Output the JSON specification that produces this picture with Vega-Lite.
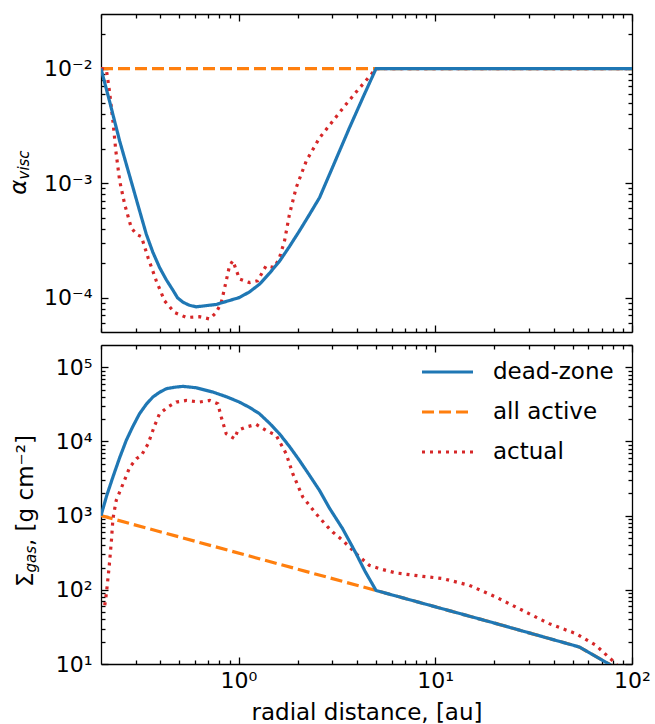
{
  "$schema": "https://vega.github.io/schema/vega-lite/v6.json",
  "padding": {"left": 7, "top": 13, "right": 20, "bottom": 2},
  "spacing": 10,
  "datasets": {
    "alpha": [
      {"series": "all active", "x": 0.2, "y": 0.01},
      {"series": "all active", "x": 100, "y": 0.01},
      {"series": "actual", "x": 0.2, "y": 0.01},
      {"series": "actual", "x": 0.213, "y": 0.0098},
      {"series": "actual", "x": 0.221, "y": 0.0063},
      {"series": "actual", "x": 0.23, "y": 0.00347},
      {"series": "actual", "x": 0.238, "y": 0.0019},
      {"series": "actual", "x": 0.249, "y": 0.00104},
      {"series": "actual", "x": 0.264, "y": 0.00065},
      {"series": "actual", "x": 0.285, "y": 0.000407},
      {"series": "actual", "x": 0.303, "y": 0.000357},
      {"series": "actual", "x": 0.321, "y": 0.00034},
      {"series": "actual", "x": 0.347, "y": 0.000223},
      {"series": "actual", "x": 0.382, "y": 0.00014},
      {"series": "actual", "x": 0.421, "y": 0.0000935},
      {"series": "actual", "x": 0.473, "y": 0.000074},
      {"series": "actual", "x": 0.543, "y": 0.000067},
      {"series": "actual", "x": 0.634, "y": 0.000068},
      {"series": "actual", "x": 0.713, "y": 0.000065},
      {"series": "actual", "x": 0.77, "y": 0.000074},
      {"series": "actual", "x": 0.817, "y": 0.00009},
      {"series": "actual", "x": 0.866, "y": 0.00014},
      {"series": "actual", "x": 0.9, "y": 0.000189},
      {"series": "actual", "x": 0.936, "y": 0.00021},
      {"series": "actual", "x": 1.012, "y": 0.000145},
      {"series": "actual", "x": 1.137, "y": 0.000135},
      {"series": "actual", "x": 1.25, "y": 0.00014},
      {"series": "actual", "x": 1.38, "y": 0.000189},
      {"series": "actual", "x": 1.523, "y": 0.000183},
      {"series": "actual", "x": 1.615, "y": 0.000223},
      {"series": "actual", "x": 1.713, "y": 0.000312},
      {"series": "actual", "x": 1.815, "y": 0.000533},
      {"series": "actual", "x": 1.963, "y": 0.00091},
      {"series": "actual", "x": 2.21, "y": 0.00156},
      {"series": "actual", "x": 2.58, "y": 0.00248},
      {"series": "actual", "x": 3.01, "y": 0.00347},
      {"series": "actual", "x": 3.45, "y": 0.00467},
      {"series": "actual", "x": 3.98, "y": 0.0063},
      {"series": "actual", "x": 4.59, "y": 0.0084},
      {"series": "actual", "x": 5.0, "y": 0.01},
      {"series": "actual", "x": 100, "y": 0.01},
      {"series": "dead-zone", "x": 0.2, "y": 0.01},
      {"series": "dead-zone", "x": 0.221, "y": 0.00519},
      {"series": "dead-zone", "x": 0.249, "y": 0.00232},
      {"series": "dead-zone", "x": 0.291, "y": 0.00091},
      {"series": "dead-zone", "x": 0.3144, "y": 0.00057},
      {"series": "dead-zone", "x": 0.34, "y": 0.000357},
      {"series": "dead-zone", "x": 0.3672, "y": 0.000248},
      {"series": "dead-zone", "x": 0.397, "y": 0.000183},
      {"series": "dead-zone", "x": 0.4295, "y": 0.000143},
      {"series": "dead-zone", "x": 0.464, "y": 0.000116},
      {"series": "dead-zone", "x": 0.49, "y": 0.0000994},
      {"series": "dead-zone", "x": 0.522, "y": 0.000091},
      {"series": "dead-zone", "x": 0.564, "y": 0.0000855},
      {"series": "dead-zone", "x": 0.61, "y": 0.000083},
      {"series": "dead-zone", "x": 0.77, "y": 0.000087},
      {"series": "dead-zone", "x": 1.01, "y": 0.0001},
      {"series": "dead-zone", "x": 1.137, "y": 0.000112},
      {"series": "dead-zone", "x": 1.28, "y": 0.000131},
      {"series": "dead-zone", "x": 1.437, "y": 0.000163},
      {"series": "dead-zone", "x": 1.62, "y": 0.000209},
      {"series": "dead-zone", "x": 1.815, "y": 0.000279},
      {"series": "dead-zone", "x": 2.04, "y": 0.000382},
      {"series": "dead-zone", "x": 2.293, "y": 0.000531},
      {"series": "dead-zone", "x": 2.58, "y": 0.000745},
      {"series": "dead-zone", "x": 2.9, "y": 0.00119},
      {"series": "dead-zone", "x": 3.66, "y": 0.00303},
      {"series": "dead-zone", "x": 4.28, "y": 0.00555},
      {"series": "dead-zone", "x": 5.0, "y": 0.01},
      {"series": "dead-zone", "x": 100, "y": 0.01}
    ],
    "sigma": [
      {"series": "all active", "x": 0.2, "y": 1000},
      {"series": "all active", "x": 5.0, "y": 98},
      {"series": "all active", "x": 20, "y": 35.6},
      {"series": "all active", "x": 53.8, "y": 17},
      {"series": "all active", "x": 76.4, "y": 10},
      {"series": "all active", "x": 100, "y": 6.6},
      {"series": "actual", "x": 0.209, "y": 62},
      {"series": "actual", "x": 0.213, "y": 89},
      {"series": "actual", "x": 0.22, "y": 204},
      {"series": "actual", "x": 0.226, "y": 465},
      {"series": "actual", "x": 0.23, "y": 911},
      {"series": "actual", "x": 0.239, "y": 1608},
      {"series": "actual", "x": 0.259, "y": 2700},
      {"series": "actual", "x": 0.28, "y": 4500},
      {"series": "actual", "x": 0.303, "y": 5870},
      {"series": "actual", "x": 0.321, "y": 6500},
      {"series": "actual", "x": 0.347, "y": 9300},
      {"series": "actual", "x": 0.375, "y": 16500},
      {"series": "actual", "x": 0.397, "y": 23700},
      {"series": "actual", "x": 0.438, "y": 29200},
      {"series": "actual", "x": 0.483, "y": 34000},
      {"series": "actual", "x": 0.543, "y": 35800},
      {"series": "actual", "x": 0.634, "y": 34000},
      {"series": "actual", "x": 0.713, "y": 35800},
      {"series": "actual", "x": 0.785, "y": 32300},
      {"series": "actual", "x": 0.817, "y": 21400},
      {"series": "actual", "x": 0.866, "y": 12700},
      {"series": "actual", "x": 0.954, "y": 10900},
      {"series": "actual", "x": 0.992, "y": 14100},
      {"series": "actual", "x": 1.094, "y": 15700},
      {"series": "actual", "x": 1.23, "y": 17000},
      {"series": "actual", "x": 1.38, "y": 14100},
      {"series": "actual", "x": 1.554, "y": 12100},
      {"series": "actual", "x": 1.746, "y": 6860},
      {"series": "actual", "x": 1.887, "y": 3680},
      {"series": "actual", "x": 2.12, "y": 1790},
      {"series": "actual", "x": 2.48, "y": 1060},
      {"series": "actual", "x": 2.84, "y": 705},
      {"series": "actual", "x": 3.01, "y": 603},
      {"series": "actual", "x": 3.38, "y": 465},
      {"series": "actual", "x": 3.96, "y": 308},
      {"series": "actual", "x": 4.62, "y": 214},
      {"series": "actual", "x": 5.2, "y": 193},
      {"series": "actual", "x": 6.3, "y": 169},
      {"series": "actual", "x": 8.63, "y": 152},
      {"series": "actual", "x": 10.9, "y": 142},
      {"series": "actual", "x": 14.9, "y": 115},
      {"series": "actual", "x": 20.3, "y": 80},
      {"series": "actual", "x": 27.7, "y": 53},
      {"series": "actual", "x": 37.9, "y": 35},
      {"series": "actual", "x": 51.8, "y": 25.7},
      {"series": "actual", "x": 65.4, "y": 17.9},
      {"series": "actual", "x": 79.4, "y": 11.2},
      {"series": "actual", "x": 100, "y": 6},
      {"series": "dead-zone", "x": 0.2, "y": 1000},
      {"series": "dead-zone", "x": 0.2138, "y": 1862},
      {"series": "dead-zone", "x": 0.23, "y": 3330},
      {"series": "dead-zone", "x": 0.2488, "y": 6050},
      {"series": "dead-zone", "x": 0.269, "y": 10400},
      {"series": "dead-zone", "x": 0.2907, "y": 16070},
      {"series": "dead-zone", "x": 0.314, "y": 23700},
      {"series": "dead-zone", "x": 0.34, "y": 31840},
      {"series": "dead-zone", "x": 0.367, "y": 39800},
      {"series": "dead-zone", "x": 0.397, "y": 46100},
      {"series": "dead-zone", "x": 0.43, "y": 51500},
      {"series": "dead-zone", "x": 0.473, "y": 53900},
      {"series": "dead-zone", "x": 0.521, "y": 55400},
      {"series": "dead-zone", "x": 0.61, "y": 53000},
      {"series": "dead-zone", "x": 0.741, "y": 46400},
      {"series": "dead-zone", "x": 0.866, "y": 40200},
      {"series": "dead-zone", "x": 1.01, "y": 34000},
      {"series": "dead-zone", "x": 1.137, "y": 28800},
      {"series": "dead-zone", "x": 1.278, "y": 23700},
      {"series": "dead-zone", "x": 1.437, "y": 17650},
      {"series": "dead-zone", "x": 1.615, "y": 12700},
      {"series": "dead-zone", "x": 1.815, "y": 8570},
      {"series": "dead-zone", "x": 2.04, "y": 5560},
      {"series": "dead-zone", "x": 2.293, "y": 3515},
      {"series": "dead-zone", "x": 2.58, "y": 2190},
      {"series": "dead-zone", "x": 2.9, "y": 1262},
      {"series": "dead-zone", "x": 3.38, "y": 668},
      {"series": "dead-zone", "x": 3.96, "y": 308},
      {"series": "dead-zone", "x": 4.39, "y": 179},
      {"series": "dead-zone", "x": 5.0, "y": 98},
      {"series": "dead-zone", "x": 20, "y": 35.6},
      {"series": "dead-zone", "x": 53.8, "y": 17},
      {"series": "dead-zone", "x": 76.4, "y": 10},
      {"series": "dead-zone", "x": 100, "y": 6.6}
    ]
  },
  "vconcat": [
    {
      "width": 531,
      "height": 318,
      "data": {"name": "alpha"},
      "layer": [
        {
          "transform": [{"filter": "datum.series == 'all active'"}],
          "mark": {"type": "line", "strokeWidth": 3.2, "clip": true},
          "encoding": {
            "x": {"field": "x", "type": "quantitative",
              "scale": {"type": "log", "domain": [0.2, 100], "nice": false},
              "axis": {"orient": "bottom", "values": [0.2,0.3,0.4,0.5,0.6,0.7,0.8,0.9,1,2,3,4,5,6,7,8,9,10,20,30,40,50,60,70,80,90,100],
                "tickSize": {"condition": {"test": "datum.value == 1 || datum.value == 10 || datum.value == 100", "value": -7}, "value": -4},
                "labels": false, "title": null}},
            "y": {"field": "y", "type": "quantitative",
              "scale": {"type": "log", "domain": [0.00005, 0.03], "nice": false},
              "axis": {"orient": "left", "values": [0.00006,0.00007,0.00008,0.00009,0.0001,0.0002,0.0003,0.0004,0.0005,0.0006,0.0007,0.0008,0.0009,0.001,0.002,0.003,0.004,0.005,0.006,0.007,0.008,0.009,0.01,0.02],
                "tickSize": {"condition": {"test": "datum.value == 0.0001 || datum.value == 0.001 || datum.value == 0.01", "value": -7}, "value": -4},
                "labelExpr": "datum.value == 0.01 ? '10⁻²' : datum.value == 0.001 ? '10⁻³' : datum.value == 0.0001 ? '10⁻⁴' : ''",
                "labelPadding": 16,
                "title": "α", "titleFontStyle": "italic", "titleFontSize": 23, "titleAngle": 270,
                "titleAlign": "right", "titleBaseline": "alphabetic", "titleX": -76, "titleY": 165}},
            "color": {"field": "series", "type": "nominal",
              "scale": {"domain": ["dead-zone", "all active", "actual"], "range": ["#1f77b4", "#ff7f0e", "#d62728"]}, "legend": null},
            "strokeDash": {"field": "series", "type": "nominal",
              "scale": {"domain": ["dead-zone", "all active", "actual"], "range": [[1, 0], [12, 5], [3, 5]]}, "legend": null}
          }
        },
        {
          "transform": [{"filter": "datum.series == 'actual'"}],
          "mark": {"type": "line", "strokeWidth": 3.2, "clip": true},
          "encoding": {
            "x": {"field": "x", "type": "quantitative",
              "axis": {"orient": "top", "values": [0.2,0.3,0.4,0.5,0.6,0.7,0.8,0.9,1,2,3,4,5,6,7,8,9,10,20,30,40,50,60,70,80,90,100],
                "tickSize": {"condition": {"test": "datum.value == 1 || datum.value == 10 || datum.value == 100", "value": -7}, "value": -4},
                "labels": false, "title": null}},
            "y": {"field": "y", "type": "quantitative",
              "axis": {"orient": "right", "values": [0.00006,0.00007,0.00008,0.00009,0.0001,0.0002,0.0003,0.0004,0.0005,0.0006,0.0007,0.0008,0.0009,0.001,0.002,0.003,0.004,0.005,0.006,0.007,0.008,0.009,0.01,0.02],
                "tickSize": {"condition": {"test": "datum.value == 0.0001 || datum.value == 0.001 || datum.value == 0.01", "value": -7}, "value": -4},
                "labels": false, "title": null}},
            "color": {"field": "series", "type": "nominal", "legend": null},
            "strokeDash": {"field": "series", "type": "nominal", "legend": null}
          }
        },
        {
          "transform": [{"filter": "datum.series == 'dead-zone'"}],
          "mark": {"type": "line", "strokeWidth": 3.2, "clip": true},
          "encoding": {
            "x": {"field": "x", "type": "quantitative", "axis": null},
            "y": {"field": "y", "type": "quantitative",
              "axis": {"orient": "left", "domain": false, "ticks": false, "labels": false,
                "title": "visc", "titleFontStyle": "italic", "titleFontSize": 15, "titleAngle": 270,
                "titleAlign": "left", "titleBaseline": "alphabetic", "titleX": -73, "titleY": 165}},
            "color": {"field": "series", "type": "nominal", "legend": null},
            "strokeDash": {"field": "series", "type": "nominal", "legend": null}
          }
        }
      ],
      "resolve": {"axis": {"x": "independent", "y": "independent"}}
    },
    {
      "width": 531,
      "height": 319,
      "data": {"name": "sigma"},
      "layer": [
        {
          "transform": [{"filter": "datum.series == 'all active'"}],
          "mark": {"type": "line", "strokeWidth": 3.2, "clip": true},
          "encoding": {
            "x": {"field": "x", "type": "quantitative",
              "scale": {"type": "log", "domain": [0.2, 100], "nice": false},
              "axis": {"orient": "bottom", "values": [0.3,0.4,0.5,0.6,0.7,0.8,0.9,1,2,3,4,5,6,7,8,9,10,20,30,40,50,60,70,80,90,100],
                "tickSize": {"condition": {"test": "datum.value == 1 || datum.value == 10 || datum.value == 100", "value": -7}, "value": -4},
                "labelExpr": "datum.value == 1 ? '10⁰' : datum.value == 10 ? '10¹' : datum.value == 100 ? '10²' : ''",
                "labelPadding": 13,
                "title": "radial distance, [au]", "titleFontSize": 23, "titlePadding": 7}},
            "y": {"field": "y", "type": "quantitative",
              "scale": {"type": "log", "domain": [10, 200000], "nice": false},
              "axis": {"orient": "left", "values": [10,20,30,40,50,60,70,80,90,100,200,300,400,500,600,700,800,900,1000,2000,3000,4000,5000,6000,7000,8000,9000,10000,20000,30000,40000,50000,60000,70000,80000,90000,100000],
                "tickSize": {"condition": {"test": "datum.value == 10 || datum.value == 100 || datum.value == 1000 || datum.value == 10000 || datum.value == 100000", "value": -7}, "value": -4},
                "labelExpr": "datum.value == 10 ? '10¹' : datum.value == 100 ? '10²' : datum.value == 1000 ? '10³' : datum.value == 10000 ? '10⁴' : datum.value == 100000 ? '10⁵' : ''",
                "labelPadding": 16,
                "title": "Σ", "titleFontSize": 23, "titleAngle": 270,
                "titleAlign": "right", "titleBaseline": "alphabetic", "titleX": -69, "titleY": 227}},
            "color": {"field": "series", "type": "nominal",
              "scale": {"domain": ["dead-zone", "all active", "actual"], "range": ["#1f77b4", "#ff7f0e", "#d62728"]}, "legend": {"title": null}},
            "strokeDash": {"field": "series", "type": "nominal",
              "scale": {"domain": ["dead-zone", "all active", "actual"], "range": [[1, 0], [12, 5], [3, 5]]}, "legend": {"title": null}}
          }
        },
        {
          "transform": [{"filter": "datum.series == 'actual'"}],
          "mark": {"type": "line", "strokeWidth": 3.2, "clip": true},
          "encoding": {
            "x": {"field": "x", "type": "quantitative",
              "axis": {"orient": "top", "values": [0.2,0.3,0.4,0.5,0.6,0.7,0.8,0.9,1,2,3,4,5,6,7,8,9,10,20,30,40,50,60,70,80,90,100],
                "tickSize": {"condition": {"test": "datum.value == 1 || datum.value == 10 || datum.value == 100", "value": -7}, "value": -4},
                "labels": false, "title": null}},
            "y": {"field": "y", "type": "quantitative",
              "axis": {"orient": "right", "values": [10,20,30,40,50,60,70,80,90,100,200,300,400,500,600,700,800,900,1000,2000,3000,4000,5000,6000,7000,8000,9000,10000,20000,30000,40000,50000,60000,70000,80000,90000,100000,200000],
                "tickSize": {"condition": {"test": "datum.value == 10 || datum.value == 100 || datum.value == 1000 || datum.value == 10000 || datum.value == 100000", "value": -7}, "value": -4},
                "labels": false,
                "title": ", [g cm⁻²]", "titleFontSize": 23, "titleAngle": 270,
                "titleAlign": "left", "titleBaseline": "alphabetic", "titleX": -600, "titleY": 200.5}},
            "color": {"field": "series", "type": "nominal", "legend": {"title": null}},
            "strokeDash": {"field": "series", "type": "nominal", "legend": {"title": null}}
          }
        },
        {
          "transform": [{"filter": "datum.series == 'dead-zone'"}],
          "mark": {"type": "line", "strokeWidth": 3.2, "clip": true},
          "encoding": {
            "x": {"field": "x", "type": "quantitative", "axis": null},
            "y": {"field": "y", "type": "quantitative",
              "axis": {"orient": "left", "domain": false, "ticks": false, "labels": false,
                "title": "gas", "titleFontStyle": "italic", "titleFontSize": 15, "titleAngle": 270,
                "titleAlign": "left", "titleBaseline": "alphabetic", "titleX": -66, "titleY": 227}},
            "color": {"field": "series", "type": "nominal", "legend": {"title": null}},
            "strokeDash": {"field": "series", "type": "nominal", "legend": {"title": null}}
          }
        }
      ],
      "resolve": {"axis": {"x": "independent", "y": "independent"}}
    }
  ],
  "resolve": {
    "scale": {"color": "independent", "strokeDash": "independent"},
    "legend": {"color": "independent", "strokeDash": "independent"}
  },
  "config": {
    "view": {"stroke": null},
    "font": "DejaVu Sans",
    "axis": {
      "domainColor": "black", "domainWidth": 1.3, "tickColor": "black", "tickWidth": 1.3,
      "labelColor": "black", "labelFont": "DejaVu Sans", "labelFontSize": 22,
      "titleColor": "black", "titleFont": "DejaVu Sans", "titleFontWeight": "normal",
      "grid": false, "labelFlush": false, "labelOverlap": false
    },
    "legend": {
      "orient": "top-right", "offset": 18, "padding": 0,
      "symbolType": "stroke", "symbolSize": 2601, "symbolStrokeWidth": 3.2,
      "clipHeight": 18, "rowPadding": 17, "labelOffset": 18,
      "labelFontSize": 23, "labelFont": "DejaVu Sans", "labelColor": "black", "labelLimit": 300
    }
  }
}
